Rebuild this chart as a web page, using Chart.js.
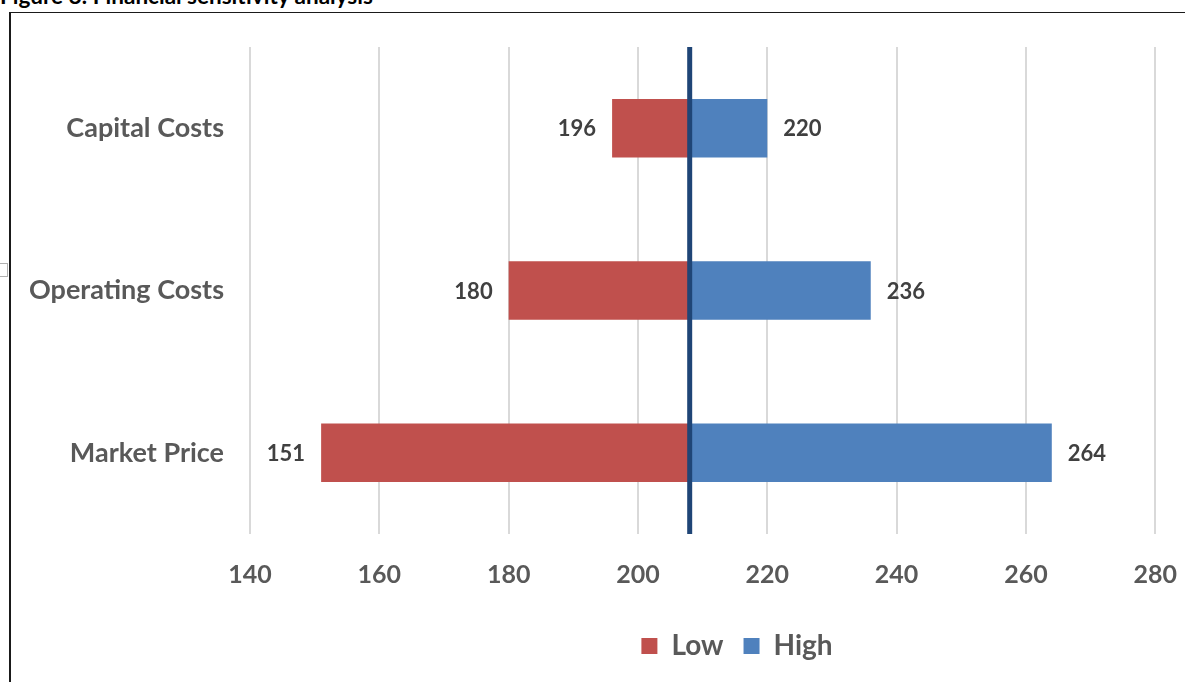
<!DOCTYPE html>
<html>
<head>
<meta charset="utf-8">
<script src="https://cdn.jsdelivr.net/npm/chart.js@4.4.1/dist/chart.umd.min.js"></script>
<style>
  html, body { margin: 0; padding: 0; background: #fff; overflow: hidden; }
  body { width: 1185px; height: 682px; position: relative; font-family: Lato, "Open Sans", sans-serif; }
  #title { position: absolute; left: 0; top: -17px; font-weight: bold; font-size: 22.5px; line-height: 26px; color: #000; white-space: nowrap; }
  #frame { position: absolute; left: 9px; top: 12px; width: 1500px; height: 800px; border-left: 2px solid #1a1a1a; border-top: 1.5px solid #1a1a1a; box-sizing: border-box; }
  #handle { position: absolute; left: -6px; top: 263px; width: 14px; height: 14px; border: 1.5px solid #b0b0b0; background: #fff; box-sizing: border-box; }
  #wrap { position: absolute; left: 0; top: 0; width: 1203px; height: 682px; }
</style>
</head>
<body>
<div id="title">Figure 8: Financial sensitivity analysis</div>
<div id="frame"></div>
<div id="handle"></div>
<div id="wrap"><canvas id="c"></canvas></div>
<script>
// ---- data ----
const categories = ["Capital Costs", "Operating Costs", "Market Price"];
const baseValue = 208;
const lowValues = [196, 180, 151];
const highValues = [220, 236, 264];
const seriesNames = ["Low", "High"];
const axisMin = 140, axisMax = 280, axisStep = 20;

const lowData = lowValues.map(v => [v, baseValue]);
const highData = highValues.map(v => [baseValue, v]);

const FONT = 'Lato, "Open Sans", sans-serif';

const labelPlugin = {
  id: 'barLabels',
  afterDatasetsDraw(chart) {
    const ctx = chart.ctx;
    const xs = chart.scales.x, ys = chart.scales.y;
    ctx.save();
    ctx.font = 'bold 22px ' + FONT;
    ctx.fillStyle = '#404040';
    ctx.textBaseline = 'middle';
    categories.forEach((c, i) => {
      const y = ys.getPixelForValue(i);
      ctx.textAlign = 'right';
      ctx.fillText(String(lowValues[i]), xs.getPixelForValue(lowValues[i]) - 16, y + 1);
      ctx.textAlign = 'left';
      ctx.fillText(String(highValues[i]), xs.getPixelForValue(highValues[i]) + 16, y + 1);
    });
    // base line
    const bx = xs.getPixelForValue(baseValue);
    ctx.strokeStyle = '#1f4576';
    ctx.lineWidth = 5;
    ctx.beginPath();
    ctx.moveTo(bx, chart.chartArea.top);
    ctx.lineTo(bx, chart.chartArea.bottom);
    ctx.stroke();
    ctx.restore();
  }
};

// the original chart is wider than the visible window; centre the legend on it
const legendCentre = {
  id: 'legendCentre',
  afterLayout(chart) {
    const l = chart.legend;
    if (!l) return;
    const dx = 737 - (l.left + l.right) / 2;
    l.left += dx; l.right += dx;
  }
};

new Chart(document.getElementById('c'), {
  type: 'bar',
  data: {
    labels: categories,
    datasets: [
      { label: seriesNames[0], data: lowData, backgroundColor: '#c0504d', borderWidth: 0, grouped: false, categoryPercentage: 0.9, barPercentage: 0.4 },
      { label: seriesNames[1], data: highData, backgroundColor: '#4f81bd', borderWidth: 0, grouped: false, categoryPercentage: 0.9, barPercentage: 0.4 }
    ]
  },
  options: {
    indexAxis: 'y',
    responsive: true,
    maintainAspectRatio: false,
    animation: false,
    layout: { padding: { left: 0, right: 0, top: 47, bottom: 12 } },
    scales: {
      x: {
        min: axisMin, max: axisMax,
        ticks: { stepSize: axisStep, color: '#595959', font: { family: FONT, size: 25, weight: 'bold' }, padding: 26 },
        grid: { color: '#d9d9d9', lineWidth: 2, drawTicks: false },
        border: { display: false },
        afterFit(s) { s.height = 78; }
      },
      y: {
        ticks: { color: '#595959', font: { family: FONT, size: 27, weight: 'bold' }, padding: 26 },
        grid: { display: false, drawTicks: false },
        border: { display: false },
        afterFit(s) { s.width = 250; }
      }
    },
    plugins: {
      legend: {
        position: 'bottom',
        labels: { color: '#595959', font: { family: FONT, size: 28, weight: 'bold' }, boxWidth: 16, boxHeight: 16, padding: 20 }
      },
      tooltip: { enabled: false }
    }
  },
  plugins: [labelPlugin, legendCentre]
});
</script>
</body>
</html>
